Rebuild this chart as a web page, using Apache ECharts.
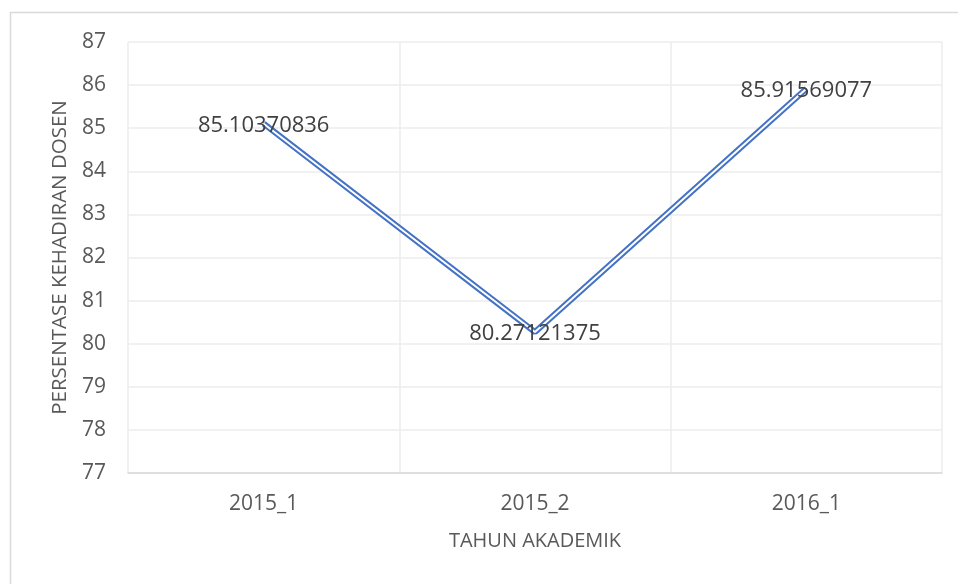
<!DOCTYPE html>
<html>
<head>
<meta charset="utf-8">
<script src="https://cdn.jsdelivr.net/npm/echarts@6/dist/echarts.min.js"></script>
<style>
    html, body { margin: 0; padding: 0; background: #fff; }
    #main { width: 958px; height: 584px; }
</style>
</head>
<body>
<div id="main"></div>
<script>
    // data
    var tahun = ['2015_1', '2015_2', '2016_1'];
    var kehadiran = [85.10370836, 80.27121375, 85.91569077];
    var labelKehadiran = ['85.10370836', '80.27121375', '85.91569077'];

    var fontFam = 'Open Sans, Noto Sans, sans-serif';
    var myChart = echarts.init(document.getElementById('main'));

    var option = {
        animation: false,
        backgroundColor: '#fff',
        graphic: [{
            // chart frame
            type: 'rect',
            shape: {x: 10.5, y: 12.5, width: 1000, height: 1000},
            style: {fill: 'none', stroke: '#d9d9d9', lineWidth: 1.5},
            silent: true
        }],
        grid: {left: 128, right: 16, top: 42, bottom: 111},
        xAxis: {
            type: 'category',
            data: tahun,
            boundaryGap: true,
            name: 'TAHUN AKADEMIK',
            nameLocation: 'middle',
            nameGap: 58,
            nameTextStyle: {color: '#595959', fontSize: 20, fontFamily: fontFam},
            axisLine: {lineStyle: {color: '#d9d9d9', width: 1.5}},
            axisTick: {show: false},
            axisLabel: {color: '#595959', fontSize: 21, fontFamily: fontFam, margin: 21},
            splitLine: {show: true, interval: 0, lineStyle: {color: '#ececec', width: 1.5}}
        },
        yAxis: {
            type: 'value',
            min: 77,
            max: 87,
            interval: 1,
            name: 'PERSENTASE KEHADIRAN DOSEN',
            nameLocation: 'middle',
            nameGap: 57,
            nameTextStyle: {color: '#595959', fontSize: 20.5, fontFamily: fontFam},
            axisLine: {show: false},
            axisTick: {show: false},
            axisLabel: {color: '#595959', fontSize: 21, fontFamily: fontFam, margin: 22},
            splitLine: {lineStyle: {color: '#ececec', width: 1.5}}
        },
        series: [
            { // outer blue stroke
                type: 'line',
                data: kehadiran,
                showSymbol: false,
                symbol: 'none',
                lineStyle: {color: '#4472c4', width: 6},
                z: 2
            },
            { // white core -> double line look
                type: 'line',
                data: kehadiran,
                symbol: 'circle',
                symbolSize: 1,
                itemStyle: {color: 'rgba(0,0,0,0)'},
                lineStyle: {color: '#ffffff', width: 2},
                label: {
                    show: true,
                    position: 'inside',
                    offset: [0, 2],
                    color: '#404040',
                    fontSize: 22,
                    fontFamily: fontFam,
                    formatter: function (p) { return labelKehadiran[p.dataIndex]; }
                },
                z: 3
            }
        ]
    };
    myChart.setOption(option);
</script>
</body>
</html>
